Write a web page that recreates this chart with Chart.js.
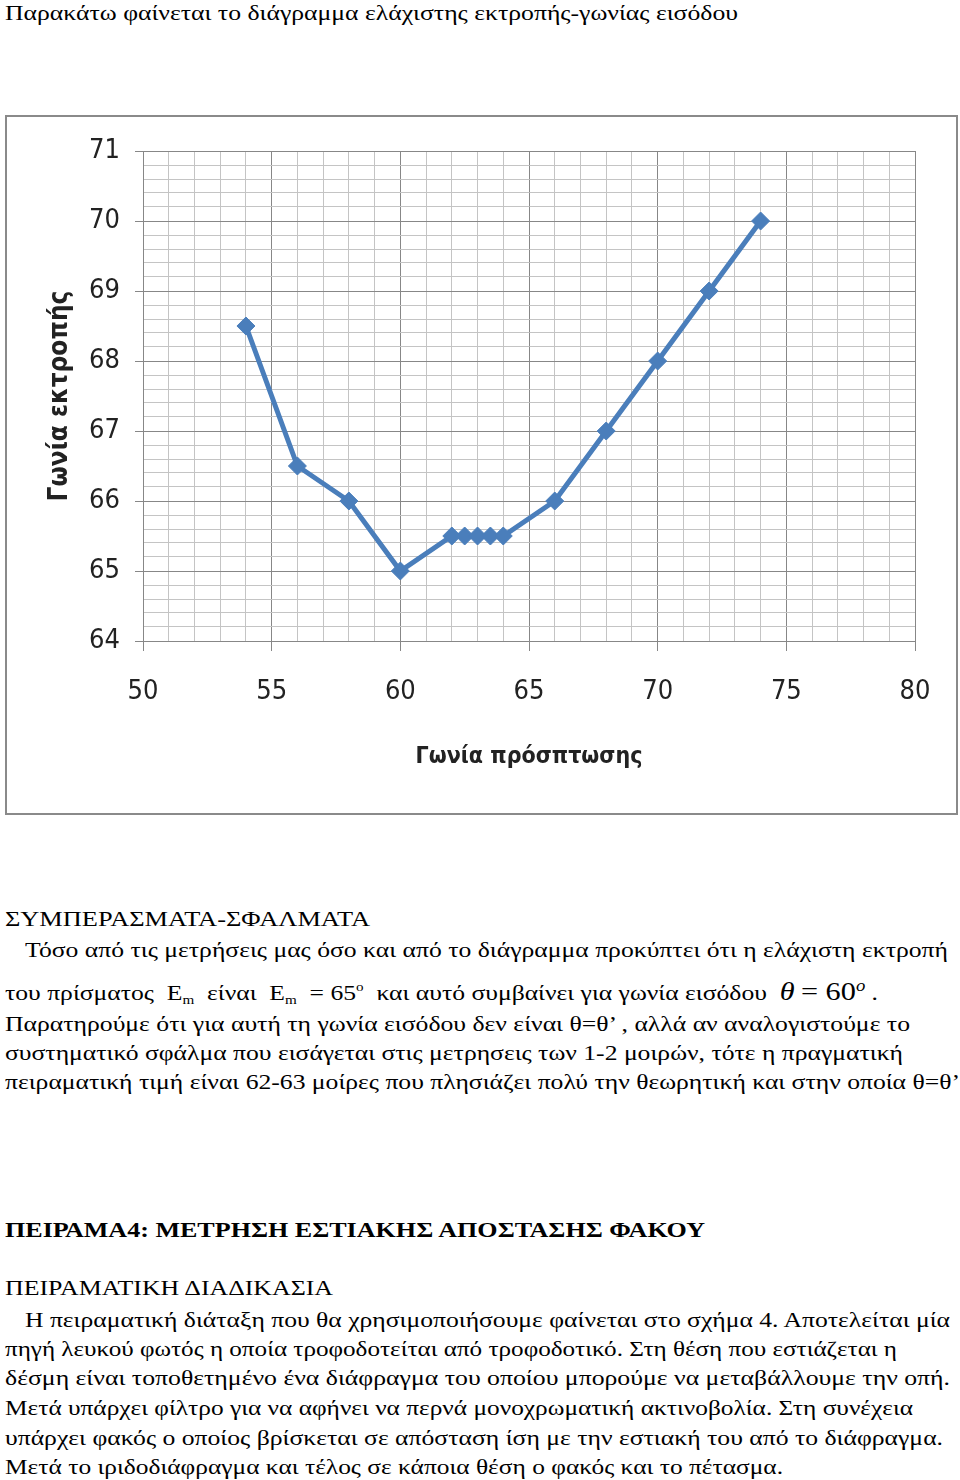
<!DOCTYPE html>
<html>
<head>
<meta charset="utf-8">
<script src="https://cdn.jsdelivr.net/npm/chart.js@4/dist/chart.umd.min.js"></script>
<style>
  body { margin: 0; background: #fff; width: 960px; height: 1480px; position: relative; overflow: hidden; }
  .ln { position: absolute; white-space: nowrap; font-family: 'Liberation Serif', 'Times New Roman', serif; font-size: 22px; line-height: 30px; color: #000; transform-origin: 0 0; }
  .b { font-weight: bold; }
  #box { position: absolute; left: 5px; top: 115px; width: 949px; height: 696px; border: 2px solid #8a8a8a; }
  sub { font-size: 13px; vertical-align: -4px; }
  sup { font-size: 13px; vertical-align: 9px; }
</style>
</head>
<body>
<div class="ln" data-w="733" style="left:5px;top:-2px">Παρακάτω φαίνεται το διάγραμμα ελάχιστης εκτροπής-γωνίας εισόδου</div>

<div id="box"><canvas id="chart" width="949" height="696"></canvas></div>

<div class="ln" data-w="365" style="left:5px;top:904px">ΣΥΜΠΕΡΑΣΜΑΤΑ-ΣΦΑΛΜΑΤΑ</div>
<div class="ln" data-w="923" style="left:25px;top:935px">Τόσο από τις μετρήσεις μας όσο και από το διάγραμμα προκύπτει ότι η ελάχιστη εκτροπή</div>
<div class="ln" data-w="873" style="left:5px;top:971px">του πρίσματος &nbsp;E<sub>m</sub> &nbsp;είναι &nbsp;E<sub>m</sub> &nbsp;= 65<sup>o</sup> &nbsp;και αυτό συμβαίνει για γωνία εισόδου &nbsp;<i style="font-size:26px">θ</i> <span style="font-size:26px">= 60</span><sup style="font-size:16px"><i>o</i></sup> .</div>
<div class="ln" data-w="905" style="left:5px;top:1009px">Παρατηρούμε ότι για αυτή τη γωνία εισόδου δεν είναι θ=θ’ , αλλά αν αναλογιστούμε το</div>
<div class="ln" data-w="898" style="left:5px;top:1038px">συστηματικό σφάλμα που εισάγεται στις μετρησεις των 1-2 μοιρών, τότε η πραγματική</div>
<div class="ln" data-w="955" style="left:5px;top:1067px">πειραματική τιμή είναι 62-63 μοίρες που πλησιάζει πολύ την θεωρητική και στην οποία θ=θ’</div>

<div class="ln b" data-w="700" style="left:5px;top:1215px">ΠΕΙΡΑΜΑ4: ΜΕΤΡΗΣΗ ΕΣΤΙΑΚΗΣ ΑΠΟΣΤΑΣΗΣ ΦΑΚΟΥ</div>
<div class="ln" data-w="328" style="left:5px;top:1273px">ΠΕΙΡΑΜΑΤΙΚΗ ΔΙΑΔΙΚΑΣΙΑ</div>
<div class="ln" data-w="925" style="left:25px;top:1305px">Η πειραματική διάταξη που θα χρησιμοποιήσουμε φαίνεται στο σχήμα 4. Αποτελείται μία</div>
<div class="ln" data-w="892" style="left:5px;top:1334px">πηγή λευκού φωτός η οποία τροφοδοτείται από τροφοδοτικό. Στη θέση που εστιάζεται η</div>
<div class="ln" data-w="945" style="left:5px;top:1363px">δέσμη είναι τοποθετημένο ένα διάφραγμα του οποίου μπορούμε να μεταβάλλουμε την οπή.</div>
<div class="ln" data-w="908" style="left:5px;top:1393px">Μετά υπάρχει φίλτρο για να αφήνει να περνά μονοχρωματική ακτινοβολία. Στη συνέχεια</div>
<div class="ln" data-w="938" style="left:5px;top:1423px">υπάρχει φακός ο οποίος βρίσκεται σε απόσταση ίση με την εστιακή του από το διάφραγμα.</div>
<div class="ln" data-w="778" style="left:5px;top:1452px">Μετά το ιριδοδιάφραγμα και τέλος σε κάποια θέση ο φακός και το πέτασμα.</div>

<script>
// incidence angle (deg) vs deviation angle (deg)
const incidenceAngles = [54, 56, 58, 60, 62, 62.5, 63, 63.5, 64, 66, 68, 70, 72, 74];
const deviationAngles = [68.5, 66.5, 66, 65, 65.5, 65.5, 65.5, 65.5, 65.5, 66, 67, 68, 69, 70];

const xMin = 50, xMax = 80, xLabelStep = 5;
const yMin = 64, yMax = 71;

const xTitle = 'Γωνία πρόσπτωσης';
const yTitle = 'Γωνία εκτροπής';

const blue = '#4a7ebb';
const majorGrid = '#878787';
const minorGrid = '#c4c4c4';
const axisFont = "'Liberation Sans Narrow', 'DejaVu Sans Condensed', sans-serif";

const isInt = v => Math.abs(v - Math.round(v)) < 1e-6;
const isMajorX = v => isInt(v) && Math.round(v) % xLabelStep === 0;

const points = incidenceAngles.map((x, i) => ({ x: x, y: deviationAngles[i] }));

// squeeze each text line to the width it has in the scanned page
function fitLines() {
    document.querySelectorAll('.ln[data-w]').forEach(el => {
        const w = el.getBoundingClientRect().width;
        if (w > 0) el.style.transform = 'scaleX(' + (parseFloat(el.dataset.w) / w) + ')';
    });
}
if (document.fonts && document.fonts.ready) document.fonts.ready.then(fitLines); else fitLines();

new Chart(document.getElementById('chart'), {
    type: 'line',
    data: {
        datasets: [{
            data: points,
            borderColor: blue,
            backgroundColor: blue,
            borderWidth: 5,
            pointStyle: 'rectRot',
            pointRadius: 9,
            pointBorderWidth: 1,
            pointBackgroundColor: blue,
            pointBorderColor: blue,
            tension: 0
        }]
    },
    options: {
        responsive: false,
        animation: false,
        devicePixelRatio: 1,
        layout: { padding: { left: 0, right: 41, top: 34, bottom: 0 } },
        plugins: { legend: { display: false }, tooltip: { enabled: false } },
        scales: {
            x: {
                type: 'linear',
                min: xMin,
                max: xMax,
                afterFit: s => { s.height = 172; },
                border: { color: majorGrid, width: 1 },
                grid: {
                    color: c => isMajorX(c.tick.value) ? majorGrid : minorGrid,
                    tickColor: c => isMajorX(c.tick.value) ? majorGrid : 'rgba(0,0,0,0)',
                    tickLength: 10,
                    lineWidth: 1
                },
                ticks: {
                    stepSize: 1,
                    autoSkip: false,
                    maxRotation: 0,
                    minRotation: 0,
                    padding: 25,
                    color: '#222',
                    font: { family: axisFont, size: 27 },
                    callback: v => isMajorX(v) ? String(Math.round(v)) : ''
                },
                title: {
                    display: true,
                    text: xTitle,
                    color: '#222',
                    font: { family: axisFont, size: 23, weight: 'bold' },
                    padding: { top: 0, bottom: 42 }
                }
            },
            y: {
                type: 'linear',
                min: yMin,
                max: yMax,
                afterFit: s => { s.width = 136; },
                border: { color: majorGrid, width: 1 },
                grid: {
                    color: c => isInt(c.tick.value) ? majorGrid : minorGrid,
                    tickColor: c => isInt(c.tick.value) ? majorGrid : 'rgba(0,0,0,0)',
                    tickLength: 8,
                    lineWidth: 1
                },
                ticks: {
                    stepSize: 0.2,
                    autoSkip: false,
                    padding: 15,
                    color: '#222',
                    font: { family: axisFont, size: 27 },
                    callback: v => isInt(v) ? String(Math.round(v)) : ''
                },
                title: {
                    display: true,
                    text: yTitle,
                    color: '#222',
                    font: { family: axisFont, size: 26, weight: 'bold' },
                    padding: { top: 38, bottom: 0 }
                }
            }
        }
    }
});
</script>
</body>
</html>
